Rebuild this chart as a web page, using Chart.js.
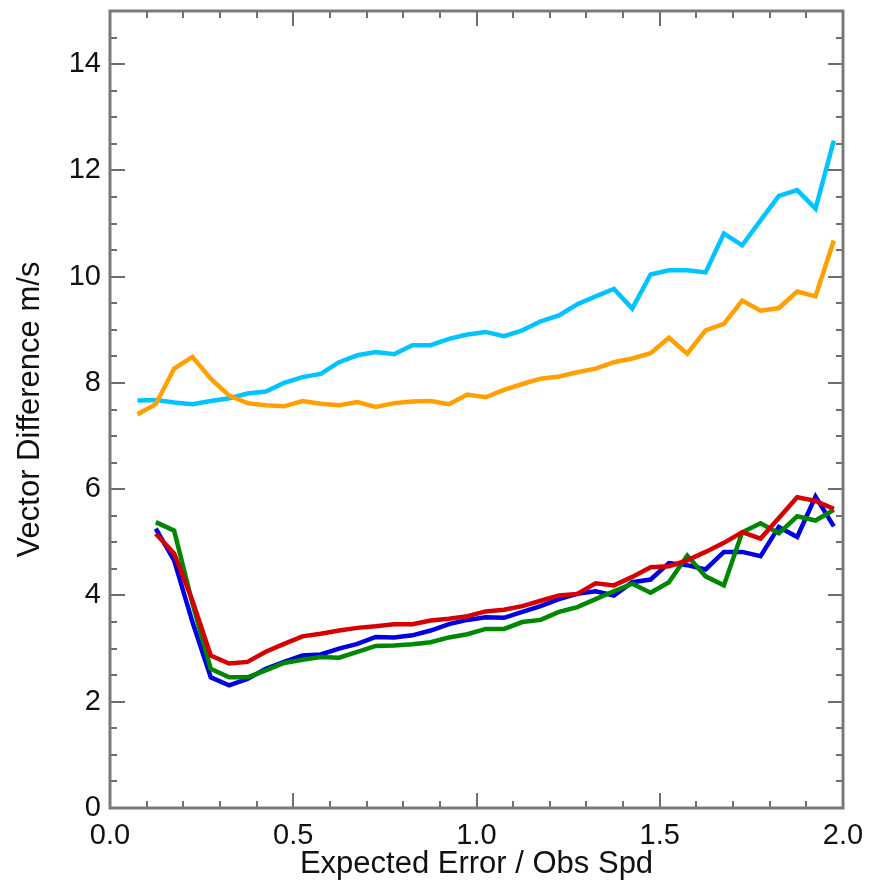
<!DOCTYPE html>
<html>
<head>
<meta charset="utf-8">
<script src="https://cdn.jsdelivr.net/npm/chart.js@4.4.1/dist/chart.umd.min.js"></script>
<style>
	html, body { margin: 0; padding: 0; background: #fff; }
	#wrap { width: 883px; height: 890px; }
</style>
</head>
<body>
<div id="wrap"><canvas id="myChart" width="883" height="890"></canvas></div>
<script>
// bin centres of Expected Error / Obs Spd
const xValues = [0.075, 0.125, 0.175, 0.225, 0.275, 0.325, 0.375, 0.425, 0.475, 0.525,
	0.575, 0.625, 0.675, 0.725, 0.775, 0.825, 0.875, 0.925, 0.975, 1.025,
	1.075, 1.125, 1.175, 1.225, 1.275, 1.325, 1.375, 1.425, 1.475, 1.525,
	1.575, 1.625, 1.675, 1.725, 1.775, 1.825, 1.875, 1.925, 1.975]

const cyanValues = [7.67, 7.68, 7.63, 7.60, 7.66, 7.71, 7.80, 7.84, 8.00, 8.11,
	8.17, 8.39, 8.52, 8.58, 8.54, 8.71, 8.71, 8.83, 8.91, 8.96,
	8.88, 8.99, 9.16, 9.27, 9.48, 9.63, 9.77, 9.40, 10.04, 10.12,
	10.12, 10.08, 10.81, 10.59, 11.06, 11.52, 11.63, 11.28, 12.56]

const orangeValues = [7.41, 7.60, 8.27, 8.49, 8.08, 7.76, 7.62, 7.58, 7.56, 7.66,
	7.61, 7.58, 7.64, 7.55, 7.62, 7.65, 7.66, 7.60, 7.78, 7.73,
	7.87, 7.98, 8.08, 8.12, 8.20, 8.27, 8.39, 8.46, 8.56, 8.85,
	8.55, 8.99, 9.11, 9.55, 9.36, 9.41, 9.72, 9.63, 10.68]

const blueValues = [null, 5.26, 4.66, 3.50, 2.46, 2.31, 2.43, 2.62, 2.75, 2.87,
	2.89, 3.00, 3.09, 3.22, 3.21, 3.25, 3.34, 3.46, 3.54, 3.59,
	3.58, 3.69, 3.80, 3.93, 4.03, 4.08, 4.00, 4.25, 4.30, 4.61,
	4.57, 4.49, 4.82, 4.82, 4.74, 5.29, 5.10, 5.86, 5.30]

const greenValues = [null, 5.38, 5.22, 3.85, 2.62, 2.46, 2.46, 2.59, 2.73, 2.79,
	2.84, 2.83, 2.94, 3.05, 3.06, 3.08, 3.12, 3.21, 3.27, 3.37,
	3.37, 3.50, 3.54, 3.69, 3.78, 3.93, 4.08, 4.22, 4.05, 4.25,
	4.75, 4.36, 4.19, 5.19, 5.36, 5.17, 5.49, 5.41, 5.61]

const redValues = [null, 5.16, 4.79, 3.90, 2.87, 2.72, 2.75, 2.94, 3.09, 3.23,
	3.28, 3.34, 3.39, 3.42, 3.46, 3.46, 3.53, 3.56, 3.61, 3.70,
	3.73, 3.80, 3.90, 4.00, 4.03, 4.23, 4.19, 4.35, 4.53, 4.55,
	4.66, 4.82, 4.99, 5.19, 5.07, 5.46, 5.85, 5.78, 5.63]

// axis ticks
const xMajorTicks = [0, 0.5, 1.0, 1.5, 2.0]
const xMinorTicks = [0.1, 0.2, 0.3, 0.4, 0.6, 0.7, 0.8, 0.9, 1.1, 1.2, 1.3, 1.4, 1.6, 1.7, 1.8, 1.9]
const yMajorTicks = [0, 2, 4, 6, 8, 10, 12, 14]
const yMinorTicks = [0.5, 1, 1.5, 2.5, 3, 3.5, 4.5, 5, 5.5, 6.5, 7, 7.5, 8.5, 9, 9.5,
	10.5, 11, 11.5, 12.5, 13, 13.5, 14.5]

const fontFamily = '"Liberation Sans", Helvetica, Arial, sans-serif'

function makeSeries(values) {
	return xValues.map((x, i) => ({ x: x, y: values[i] }))
}

function lineSet(label, values, color, order) {
	return {
		label: label,
		data: makeSeries(values),
		borderColor: color,
		backgroundColor: color,
		borderWidth: 4.5,
		borderJoinStyle: 'miter',
		borderCapStyle: 'butt',
		pointRadius: 0,
		tension: 0,
		fill: false,
		spanGaps: false,
		order: order
	}
}

// IDL style box with inward major/minor ticks on all four sides
const idlAxes = {
	id: 'idlAxes',
	afterDatasetsDraw(chart) {
		const { ctx, chartArea: a, scales: { x, y } } = chart
		ctx.save()
		ctx.strokeStyle = '#6e6e6e'
		ctx.lineWidth = 2
		ctx.beginPath()
		const tick = (x1, y1, x2, y2) => { ctx.moveTo(x1, y1); ctx.lineTo(x2, y2) }
		xMajorTicks.forEach(v => {
			const px = Math.round(x.getPixelForValue(v))
			tick(px, a.bottom, px, a.bottom - 15)
			tick(px, a.top, px, a.top + 15)
		})
		xMinorTicks.forEach(v => {
			const px = Math.round(x.getPixelForValue(v))
			tick(px, a.bottom, px, a.bottom - 7)
			tick(px, a.top, px, a.top + 7)
		})
		yMajorTicks.forEach(v => {
			const py = Math.round(y.getPixelForValue(v))
			tick(a.left, py, a.left + 15, py)
			tick(a.right, py, a.right - 15, py)
		})
		yMinorTicks.forEach(v => {
			const py = Math.round(y.getPixelForValue(v))
			tick(a.left, py, a.left + 7, py)
			tick(a.right, py, a.right - 7, py)
		})
		ctx.stroke()
		ctx.strokeStyle = '#7a7a7a'
		ctx.lineWidth = 3
		ctx.strokeRect(a.left, a.top, a.right - a.left, a.bottom - a.top)
		ctx.restore()
	}
}

const ctx = document.getElementById('myChart')
var chart = new Chart(ctx, {
	type: 'line',
	data: {
		datasets: [
			lineSet('cyan', cyanValues, 'rgb(0, 195, 255)', 5),
			lineSet('orange', orangeValues, 'rgb(255, 160, 0)', 4),
			lineSet('blue', blueValues, 'rgb(0, 0, 225)', 3),
			lineSet('green', greenValues, 'rgb(0, 135, 0)', 2),
			lineSet('red', redValues, 'rgb(215, 0, 0)', 1)
		]
	},
	options: {
		responsive: false,
		devicePixelRatio: 1,
		animation: false,
		layout: { padding: { left: 0, right: 40, top: 11, bottom: 0 } },
		plugins: {
			legend: { display: false },
			tooltip: { enabled: false }
		},
		scales: {
			x: {
				type: 'linear',
				min: 0,
				max: 2,
				grid: { display: false, drawTicks: false, tickLength: 0 },
				border: { display: false },
				afterFit: scale => {
					scale.height = 82
					scale.paddingLeft = 0
					scale.paddingRight = 0
				},
				afterBuildTicks: scale => { scale.ticks = xMajorTicks.map(v => ({ value: v })) },
				ticks: {
					color: '#111',
					padding: 11,
					maxRotation: 0,
					autoSkip: false,
					font: { family: fontFamily, size: 29 },
					callback: value => value.toFixed(1)
				},
				title: {
					display: true,
					text: 'Expected Error / Obs Spd',
					color: '#111',
					padding: { top: 0, bottom: 7 },
					font: { family: fontFamily, size: 31 }
				}
			},
			y: {
				type: 'linear',
				min: 0,
				max: 15,
				grid: { display: false, drawTicks: false, tickLength: 0 },
				border: { display: false },
				afterFit: scale => {
					scale.width = 110
					scale.paddingTop = 0
					scale.paddingBottom = 0
				},
				afterBuildTicks: scale => { scale.ticks = yMajorTicks.map(v => ({ value: v })) },
				ticks: {
					color: '#111',
					padding: 9,
					autoSkip: false,
					font: { family: fontFamily, size: 29 },
					callback: value => String(value)
				},
				title: {
					display: true,
					text: 'Vector Difference m/s',
					color: '#111',
					padding: { top: 12, bottom: 0 },
					font: { family: fontFamily, size: 31 }
				}
			}
		}
	},
	plugins: [idlAxes]
})
</script>
</body>
</html>
